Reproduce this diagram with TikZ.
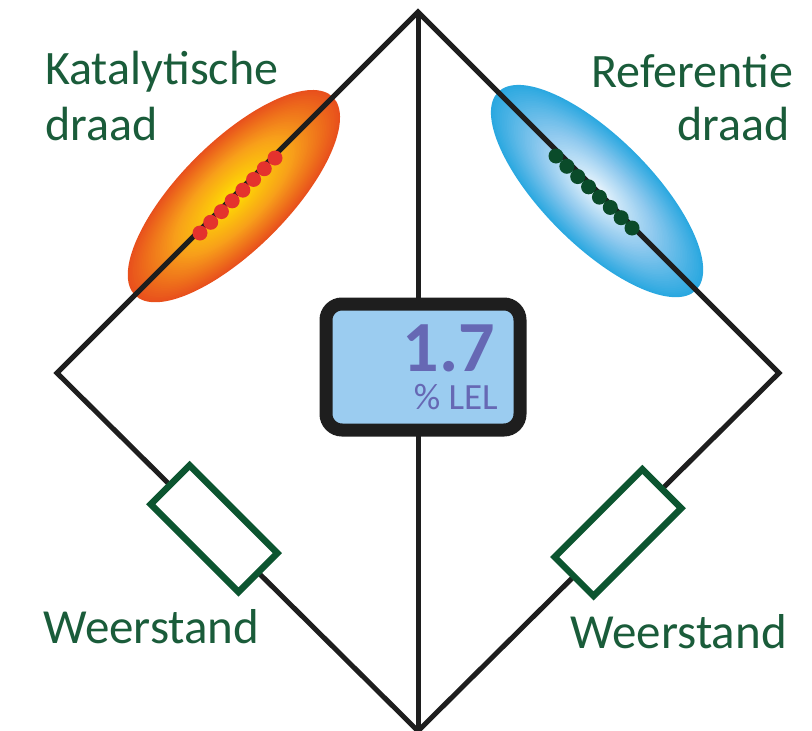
\documentclass[tikz,border=0pt]{standalone}
\usepackage{fontspec}
\setmainfont{Carlito}
\usetikzlibrary{calc}

\definecolor{wirecol}{RGB}{30,30,30}
\definecolor{labelgreen}{RGB}{26,92,58}
\definecolor{resgreen}{RGB}{12,85,48}
\definecolor{dotred}{RGB}{228,50,45}
\definecolor{dotgreen}{RGB}{10,75,42}
\definecolor{hotY}{RGB}{255,228,0}
\definecolor{hotO}{RGB}{248,160,26}
\definecolor{hotR}{RGB}{232,80,28}
\definecolor{refW}{RGB}{242,249,254}
\definecolor{refM}{RGB}{140,200,238}
\definecolor{refB}{RGB}{42,168,224}
\definecolor{lcdfill}{RGB}{155,204,240}
\definecolor{lcdtext}{RGB}{102,104,180}

% radial glow: #1 centre, #2 angle, #3 centre colour, #4 middle colour, #5 rim colour
\newcommand\glowellipse[5]{%
  \foreach \k in {0,...,59}{%
    \pgfmathsetmacro\gs{1-\k/60}%
    \pgfmathtruncatemacro\ghi{\gs>0.55 ? 1 : 0}%
    \ifnum\ghi=1
      \pgfmathtruncatemacro\gp{(\gs-0.55)/0.45*100}%
      \colorlet{glowtmp}{#5!\gp!#4}%
    \else
      \pgfmathtruncatemacro\gp{\gs/0.55*100}%
      \colorlet{glowtmp}{#4!\gp!#3}%
    \fi
    \fill[glowtmp, rotate around={#2:#1}] #1 ellipse [x radius=\gs*140pt, y radius=\gs*54pt];
  }}

\tikzset{
  wireline/.style={draw=wirecol, line width=5pt, line join=miter},
  resistor/.style={draw=resgreen, line width=6.5pt, fill=white, rectangle,
    minimum width=124pt, minimum height=55pt, inner sep=0pt},
  lcd/.style={draw=wirecol, line width=13pt, fill=lcdfill, rounded corners=16pt,
    rectangle, minimum width=194pt, minimum height=126pt, inner sep=0pt},
  lbl/.style={text=labelgreen, inner sep=0pt, font=\fontsize{48}{56}\selectfont},
  lblsmall/.style={text=labelgreen, inner sep=0pt, font=\fontsize{49}{56}\selectfont},
}

\begin{document}
\begin{tikzpicture}[x=1pt, y=-1pt]
\useasboundingbox (0,0) rectangle (812,731);

% bridge corners
\coordinate (T) at (418,12);
\coordinate (L) at (57,373);
\coordinate (B) at (418,731);
\coordinate (R) at (779,373);

% glowing wires
\coordinate (cat) at ($(L)!0.49!(T)$);
\coordinate (ref) at ($(T)!0.496!(R)$);
\glowellipse{(cat)}{45}{hotY}{hotO}{hotR}
\glowellipse{(ref)}{-45}{refW}{refM}{refB}

% bridge wiring
\draw[wireline] (L) -- (T) -- (R) -- (B) -- cycle;
\draw[wireline] (T) -- (B);

% heated wire segments
\coordinate (c1) at (200,233);
\coordinate (c2) at (275,158);
\foreach \i in {0,...,7} \fill[dotred] ($(c1)!\i/7!(c2)$) circle (7.5pt);
\coordinate (r1) at (556,156);
\coordinate (r2) at (632,228);
\foreach \i in {0,...,7} \fill[dotgreen] ($(r1)!\i/7!(r2)$) circle (7.5pt);

% resistors
\node[resistor, rotate=-45] (resL) at ($(L)!0.435!(B)$) {};
\node[resistor, rotate=45] (resR) at ($(R)!0.446!(B)$) {};

% meter
\node[lcd] (disp) at (423,367) {};
\node[anchor=base east, inner sep=0pt, text=lcdtext, text depth=0pt,
  font=\fontsize{72}{72}\selectfont\bfseries] (val) at (495,371) {1.7};
\node[anchor=base east, inner sep=0pt, text=lcdtext, text height=20pt,
  font=\fontsize{37}{37}\selectfont] (unit) at (498,409) {\% LEL};

% labels
\node[lbl, anchor=base west] (kat1) at (45,84) {Katalytische};
\node[lbl, anchor=base west] (kat2) at (45,140) {draad};
\node[lbl, anchor=base east] (ref1) at (793,87) {Referentie};
\node[lbl, anchor=base east] (ref2) at (790,140) {draad};
\node[lblsmall, anchor=base west] (wL) at (43,643) {Weerstand};
\node[lblsmall, anchor=base east] (wR) at (787,648) {Weerstand};
\end{tikzpicture}
\end{document}
